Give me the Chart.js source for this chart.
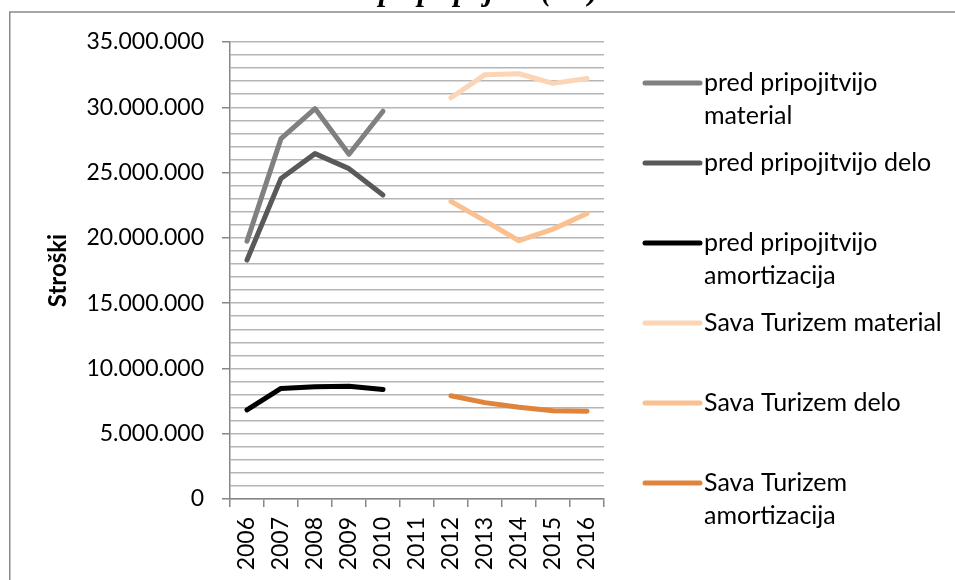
<!DOCTYPE html>
<html>
<head>
<meta charset="utf-8">
<script src="https://cdn.jsdelivr.net/npm/chart.js@4/dist/chart.umd.min.js"></script>
<style>
  html, body { margin: 0; padding: 0; background: #ffffff; }
  #wrap { width: 955px; height: 580px; position: relative; }
</style>
</head>
<body>
<div id="wrap"><canvas id="c" width="955" height="580"></canvas></div>
<script>
// Years on the category axis
const years = ['2006', '2007', '2008', '2009', '2010', '2011', '2012', '2013', '2014', '2015', '2016'];

// Costs before the merger (2006–2010)
const predMaterial     = [19750000, 27600000, 29900000, 26400000, 29700000, null, null, null, null, null, null];
const predDelo         = [18300000, 24550000, 26450000, 25300000, 23280000, null, null, null, null, null, null];
const predAmortizacija = [6820000, 8470000, 8600000, 8630000, 8380000, null, null, null, null, null, null];

// Costs of Sava Turizem (2012–2016)
const savaMaterial     = [null, null, null, null, null, null, 30730000, 32500000, 32570000, 31830000, 32200000];
const savaDelo         = [null, null, null, null, null, null, 22800000, 21300000, 19780000, 20670000, 21870000];
const savaAmortizacija = [null, null, null, null, null, null, 7910000, 7380000, 7020000, 6760000, 6730000];

const seriesNames = [
  'pred pripojitvijo material',
  'pred pripojitvijo delo',
  'pred pripojitvijo amortizacija',
  'Sava Turizem material',
  'Sava Turizem delo',
  'Sava Turizem amortizacija'
];
const seriesColors = ['#808080', '#595959', '#000000', '#fbd5b5', '#fac090', '#e0843c'];

// Value axis
const yMin = 0;
const yMax = 35000000;
const yMinorStep = 1000000;
const yLabelStep = 5000000;
const yAxisTitle = 'Stroški';
const headingText = 'Stroški po pripojitvi (v €)';

const FONT = 'Lato, "Open Sans", sans-serif';
const AXIS_GRAY = '#878787';
const GRID_GRAY = '#b5b5b5';

function formatThousands(v) {
  return String(Math.round(v)).replace(/\B(?=(\d{3})+(?!\d))/g, '.');
}

const allSeries = [predMaterial, predDelo, predAmortizacija, savaMaterial, savaDelo, savaAmortizacija];

// Outer frame and the heading line above it
const framePlugin = {
  id: 'frame',
  beforeDraw(chart) {
    const ctx = chart.ctx;
    ctx.save();
    ctx.fillStyle = '#ffffff';
    ctx.fillRect(0, 0, chart.width, chart.height);
    ctx.strokeStyle = '#8a8a8a';
    ctx.lineWidth = 1.5;
    ctx.beginPath();
    ctx.moveTo(9.75, chart.height);
    ctx.lineTo(9.75, 12);
    ctx.lineTo(chart.width, 12);
    ctx.stroke();
    ctx.fillStyle = '#000000';
    ctx.font = 'italic bold 31px "Liberation Serif", "DejaVu Serif", serif';
    ctx.textBaseline = 'alphabetic';
    ctx.textAlign = 'left';
    const prefix = 'Stroški ';
    const x0 = 379 - ctx.measureText(prefix).width;
    ctx.fillText(headingText, x0, 0);
    ctx.restore();
  }
};

// Legend on the right, with word-wrapped entries
const sideLegendPlugin = {
  id: 'sideLegend',
  afterDraw(chart) {
    const ctx = chart.ctx;
    ctx.save();
    ctx.font = '25px ' + FONT;
    ctx.textBaseline = 'middle';
    ctx.textAlign = 'left';
    const sampleX0 = 645, sampleX1 = 700, textX = 704;
    const maxWidth = 245;
    const firstY = 83, pitch = 80, lineGap = 33;
    chart.data.datasets.forEach((ds, i) => {
      const y = firstY + i * pitch;
      ctx.strokeStyle = ds.borderColor;
      ctx.lineWidth = 5;
      ctx.lineCap = 'round';
      ctx.beginPath();
      ctx.moveTo(sampleX0, y);
      ctx.lineTo(sampleX1, y);
      ctx.stroke();
      const words = ds.label.split(' ');
      const lines = [];
      let cur = '';
      words.forEach(w => {
        const test = cur ? cur + ' ' + w : w;
        if (ctx.measureText(test).width > maxWidth && cur) {
          lines.push(cur);
          cur = w;
        } else {
          cur = test;
        }
      });
      if (cur) lines.push(cur);
      ctx.fillStyle = '#000000';
      lines.forEach((ln, k) => ctx.fillText(ln, textX, y + k * lineGap));
    });
    ctx.restore();
  }
};

new Chart(document.getElementById('c'), {
  type: 'line',
  data: {
    labels: years,
    datasets: allSeries.map((vals, i) => ({
      label: seriesNames[i],
      data: vals,
      borderColor: seriesColors[i],
      backgroundColor: seriesColors[i],
      borderWidth: 5,
      borderCapStyle: 'round',
      borderJoinStyle: 'round',
      pointRadius: 0,
      pointHoverRadius: 0,
      tension: 0,
      spanGaps: false,
      fill: false
    }))
  },
  options: {
    responsive: false,
    animation: false,
    devicePixelRatio: 1,
    layout: { padding: { left: 0, top: 42, right: 351, bottom: 0 } },
    plugins: {
      legend: { display: false },
      tooltip: { enabled: false }
    },
    scales: {
      x: {
        type: 'category',
        offset: true,
        grid: {
          offset: true,
          drawOnChartArea: false,
          drawTicks: true,
          tickLength: 8,
          color: AXIS_GRAY,
          lineWidth: 1.5
        },
        border: { color: AXIS_GRAY, width: 1.5 },
        ticks: {
          minRotation: 90,
          maxRotation: 90,
          autoSkip: false,
          padding: 10,
          color: '#000000',
          font: { family: FONT, size: 23 }
        },
        afterFit(scale) { scale.height = 81; }
      },
      y: {
        min: yMin,
        max: yMax,
        border: { color: AXIS_GRAY, width: 1.5 },
        grid: {
          color: GRID_GRAY,
          lineWidth: 1.5,
          tickLength: 8,
          tickColor: (c) => (c.tick && c.tick.value % yLabelStep === 0) ? AXIS_GRAY : 'rgba(0,0,0,0)'
        },
        ticks: {
          stepSize: yMinorStep,
          autoSkip: false,
          maxTicksLimit: 100,
          padding: 18,
          color: '#000000',
          font: { family: FONT, size: 23 },
          callback: (v) => (v % yLabelStep === 0) ? formatThousands(v) : ''
        },
        title: {
          display: true,
          text: yAxisTitle,
          color: '#000000',
          font: { family: FONT, size: 24, weight: 'bold' },
          padding: { top: 44, bottom: 0 }
        },
        afterFit(scale) { scale.width = 230; }
      }
    }
  },
  plugins: [framePlugin, sideLegendPlugin]
});
</script>
</body>
</html>
